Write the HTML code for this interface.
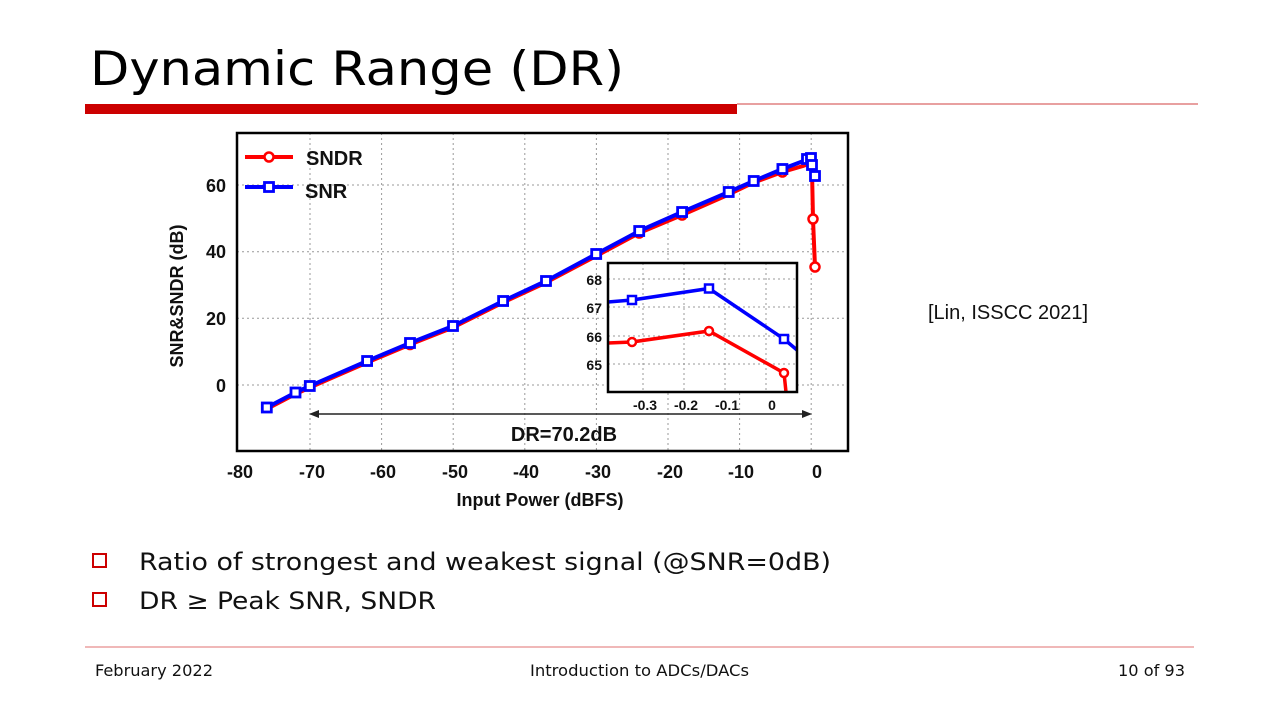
<!DOCTYPE html>
<html><head><meta charset="utf-8"><style>
html,body{margin:0;padding:0;background:#fff;}
svg{display:block;}
</style></head><body>
<svg width="1280" height="719" viewBox="0 0 1280 719" xmlns="http://www.w3.org/2000/svg">
<rect width="1280" height="719" fill="#fff"/>
<text x="90" y="85" font-family="DejaVu Sans Condensed, DejaVu Sans, sans-serif" font-size="47" fill="#000" textLength="534" lengthAdjust="spacingAndGlyphs">Dynamic Range (DR)</text>
<rect x="85" y="104" width="652" height="10" fill="#cc0000"/>
<line x1="737" y1="104" x2="1198" y2="104" stroke="#e08080" stroke-width="1.5"/>

<g stroke="#999" stroke-width="1" stroke-dasharray="2,3">
<line x1="310" y1="133" x2="310" y2="451"/><line x1="381.6" y1="133" x2="381.6" y2="451"/>
<line x1="453.2" y1="133" x2="453.2" y2="451"/><line x1="524.8" y1="133" x2="524.8" y2="451"/>
<line x1="596.4" y1="133" x2="596.4" y2="451"/><line x1="668" y1="133" x2="668" y2="451"/>
<line x1="739.6" y1="133" x2="739.6" y2="451"/><line x1="811.2" y1="133" x2="811.2" y2="451"/>
<line x1="237" y1="185" x2="848" y2="185"/><line x1="237" y1="251.7" x2="848" y2="251.7"/>
<line x1="237" y1="318.3" x2="848" y2="318.3"/><line x1="237" y1="385" x2="848" y2="385"/>
</g>
<rect x="237" y="133" width="611" height="318" fill="none" stroke="#000" stroke-width="2.5"/>
<g font-family="Liberation Sans, sans-serif" font-weight="bold" font-size="18" fill="#111" text-anchor="middle">
<text x="240" y="478">-80</text><text x="312" y="478">-70</text><text x="383" y="478">-60</text>
<text x="455" y="478">-50</text><text x="526" y="478">-40</text><text x="598" y="478">-30</text>
<text x="670" y="478">-20</text><text x="741" y="478">-10</text><text x="817" y="478">0</text>
<text x="540" y="506">Input Power (dBFS)</text>
</g>
<g font-family="Liberation Sans, sans-serif" font-weight="bold" font-size="18" fill="#111" text-anchor="end">
<text x="226" y="192">60</text><text x="226" y="258">40</text><text x="226" y="325">20</text><text x="226" y="392">0</text>
</g>
<text transform="translate(183,296) rotate(-90)" font-family="Liberation Sans, sans-serif" font-weight="bold" font-size="18" fill="#111" text-anchor="middle">SNR&amp;SNDR (dB)</text>

<line x1="316" y1="414" x2="806" y2="414" stroke="#222" stroke-width="1.5"/>
<polygon points="309,414 319,410 319,418" fill="#222"/>
<polygon points="812,414 802,410 802,418" fill="#222"/>
<text x="564" y="441" font-family="Liberation Sans, sans-serif" font-weight="bold" font-size="20" fill="#111" text-anchor="middle">DR=70.2dB</text>

<polyline fill="none" stroke="#ff0000" stroke-width="4" stroke-linejoin="round" points="266.8,409 295.5,394 309.8,387.5 367.1,362.5 410,344.5 453,327.5 503.1,302.5 546,282.5 596.2,256 639.2,233 682.1,215 728.7,194.5 753.7,182.5 782.4,172 803,166 808,164 810,163 812,170 813,219 815,267"/>
<g fill="#fff" stroke="#ff0000" stroke-width="2.5">
<circle cx="410" cy="344.5" r="4.5"/><circle cx="639.2" cy="233" r="4.5"/><circle cx="682.1" cy="215" r="4.5"/><circle cx="782.4" cy="172" r="4.5"/>
<circle cx="813" cy="219" r="4.5"/><circle cx="815" cy="267" r="4.5"/>
</g>
<polyline fill="none" stroke="#0000ff" stroke-width="4" stroke-linejoin="round" points="266.8,407.5 295.5,392.5 309.8,386 367.1,361 410,343 453,326 503.1,301 546,281 596.2,254 639.2,231 682.1,212 728.7,192 753.7,181 782.4,169 806,160 809,158 811,158 812,165 814,170 815,176"/>
<g fill="#fff" stroke="#0000ff" stroke-width="2.8">
<rect x="262.3" y="403" width="9" height="9"/><rect x="291" y="388" width="9" height="9"/><rect x="305.3" y="381.5" width="9" height="9"/>
<rect x="362.6" y="356.5" width="9" height="9"/><rect x="405.5" y="338.5" width="9" height="9"/><rect x="448.5" y="321.5" width="9" height="9"/>
<rect x="498.6" y="296.5" width="9" height="9"/><rect x="541.5" y="276.5" width="9" height="9"/><rect x="591.7" y="249.5" width="9" height="9"/>
<rect x="634.7" y="226.5" width="9" height="9"/><rect x="677.6" y="207.5" width="9" height="9"/><rect x="724.2" y="187.5" width="9" height="9"/>
<rect x="749.2" y="176.5" width="9" height="9"/><rect x="777.9" y="164.5" width="9" height="9"/><rect x="802.5" y="154.5" width="9" height="9"/>
<rect x="806.5" y="153.5" width="9" height="9"/><rect x="807.5" y="160.5" width="9" height="9"/><rect x="810.5" y="171.5" width="9" height="9"/>
</g>

<line x1="245" y1="157" x2="293" y2="157" stroke="#ff0000" stroke-width="4"/>
<circle cx="269" cy="157" r="4.5" fill="#fff" stroke="#ff0000" stroke-width="2.5"/>
<line x1="245" y1="187" x2="293" y2="187" stroke="#0000ff" stroke-width="4"/>
<rect x="264.5" y="182.5" width="9" height="9" fill="#fff" stroke="#0000ff" stroke-width="2.8"/>
<g font-family="Liberation Sans, sans-serif" font-weight="bold" font-size="20" fill="#111">
<text x="306" y="165">SNDR</text><text x="305" y="198">SNR</text>
</g>

<rect x="608" y="263" width="189" height="129" fill="#fff"/>
<g stroke="#999" stroke-width="1" stroke-dasharray="2,3">
<line x1="643" y1="263" x2="643" y2="392"/><line x1="684" y1="263" x2="684" y2="392"/>
<line x1="725" y1="263" x2="725" y2="392"/><line x1="766" y1="263" x2="766" y2="392"/>
<line x1="608" y1="279" x2="797" y2="279"/><line x1="608" y1="307" x2="797" y2="307"/>
<line x1="608" y1="336" x2="797" y2="336"/><line x1="608" y1="364" x2="797" y2="364"/>
</g>
<polyline fill="none" stroke="#0000ff" stroke-width="3.5" points="608,302 632,300 709,288.5 784,339 797,350"/>
<polyline fill="none" stroke="#ff0000" stroke-width="3.5" points="608,343 632,342 709,331 784,373 786,392"/>
<rect x="628" y="296" width="8" height="8" fill="#fff" stroke="#0000ff" stroke-width="2.5"/>
<rect x="705" y="284.5" width="8" height="8" fill="#fff" stroke="#0000ff" stroke-width="2.5"/>
<rect x="780" y="335" width="8" height="8" fill="#fff" stroke="#0000ff" stroke-width="2.5"/>
<circle cx="632" cy="342" r="4" fill="#fff" stroke="#ff0000" stroke-width="2.5"/>
<circle cx="709" cy="331" r="4" fill="#fff" stroke="#ff0000" stroke-width="2.5"/>
<circle cx="784" cy="373" r="4" fill="#fff" stroke="#ff0000" stroke-width="2.5"/>
<rect x="608" y="263" width="189" height="129" fill="none" stroke="#000" stroke-width="2.5"/>
<g font-family="Liberation Sans, sans-serif" font-weight="bold" font-size="14" fill="#111">
<g text-anchor="end"><text x="602" y="285">68</text><text x="602" y="313">67</text><text x="602" y="342">66</text><text x="602" y="370">65</text></g>
<g text-anchor="middle"><text x="645" y="410">-0.3</text><text x="686" y="410">-0.2</text><text x="727" y="410">-0.1</text><text x="772" y="410">0</text></g>
</g>

<text x="928" y="319" font-family="Liberation Sans, sans-serif" font-size="20" fill="#111">[Lin, ISSCC 2021]</text>

<rect x="93" y="554" width="13" height="13" fill="none" stroke="#cc0000" stroke-width="2"/>
<rect x="93" y="593" width="13" height="13" fill="none" stroke="#cc0000" stroke-width="2"/>
<g font-family="DejaVu Sans Condensed, DejaVu Sans, sans-serif" font-size="24" fill="#111">
<text x="139" y="570" textLength="692" lengthAdjust="spacingAndGlyphs">Ratio of strongest and weakest signal (@SNR=0dB)</text>
<text x="139" y="609" textLength="297" lengthAdjust="spacingAndGlyphs">DR ≥ Peak SNR, SNDR</text>
</g>
<line x1="85" y1="647" x2="1194" y2="647" stroke="#f0b8b8" stroke-width="2"/>
<g font-family="DejaVu Sans Condensed, DejaVu Sans, sans-serif" font-size="16" fill="#111">
<text x="95" y="676" textLength="118" lengthAdjust="spacingAndGlyphs">February 2022</text>
<text x="530" y="676" textLength="219" lengthAdjust="spacingAndGlyphs">Introduction to ADCs/DACs</text>
<text x="1118" y="676" textLength="67" lengthAdjust="spacingAndGlyphs">10 of 93</text>
</g>
</svg>
</body></html>
